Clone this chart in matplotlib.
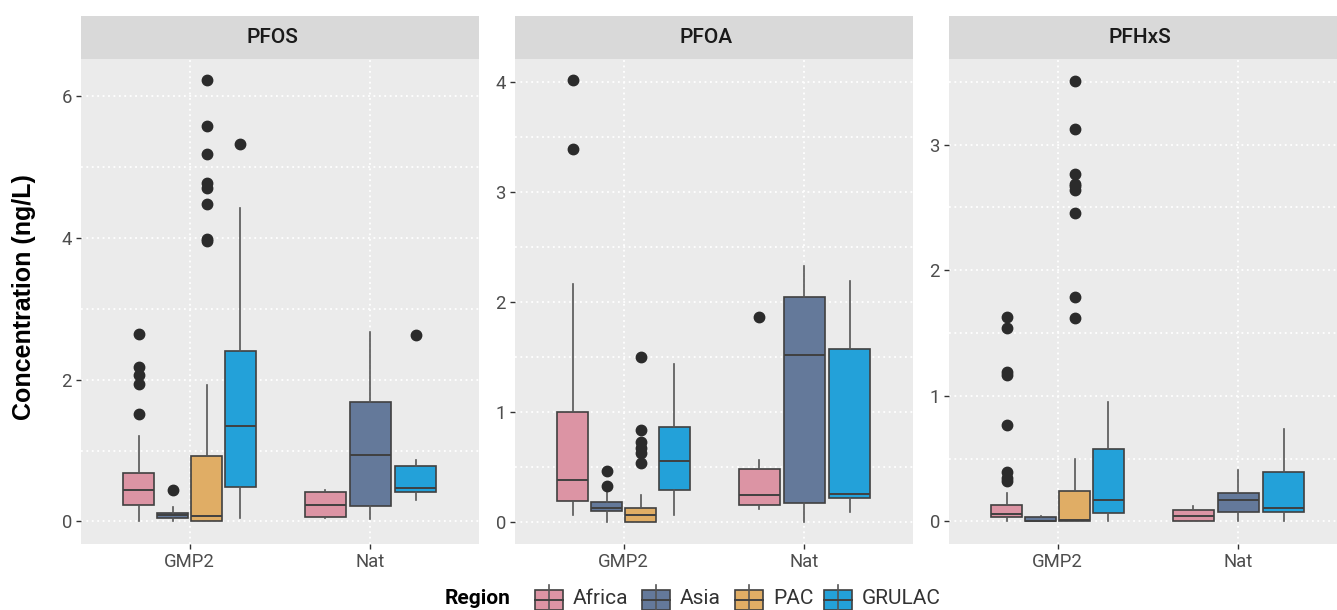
import matplotlib
matplotlib.use("Agg")
import matplotlib.pyplot as plt
from matplotlib.patches import Rectangle
from matplotlib.ticker import MultipleLocator

plt.rcParams["font.family"] = ["Roboto", "DejaVu Sans"]

# ---- data (box stats: whislo, q1, median, q3, whishi) ----
compounds = ["PFOS", "PFOA", "PFHxS"]
sites = ["GMP2", "Nat"]
gmp2_regions = ["Africa", "Asia", "PAC", "GRULAC"]
nat_regions = ["Africa", "Asia", "GRULAC"]
region_colors = {"Africa": "#dc94a4", "Asia": "#64799a", "PAC": "#e0ad65", "GRULAC": "#23a1d9"}

pfos_gmp2 = [[0.0, 0.23, 0.45, 0.69, 1.21],
             [0.0, 0.05, 0.085, 0.12, 0.20],
             [0.0, 0.0, 0.075, 0.92, 1.92],
             [0.05, 0.485, 1.35, 2.405, 4.42]]
pfos_gmp2_out = [[1.52, 1.94, 2.06, 2.18, 2.645],
                 [0.44],
                 [3.95, 3.98, 4.475, 4.70, 4.77, 5.19, 5.58, 6.23],
                 [5.32]]
pfos_nat = [[0.05, 0.056, 0.226, 0.41, 0.447],
            [0.04, 0.216, 0.936, 1.69, 2.67],
            [0.306, 0.414, 0.47, 0.777, 0.866]]
pfos_nat_out = [[], [], [2.635]]

pfoa_gmp2 = [[0.055, 0.19, 0.376, 1.0, 2.16],
             [0.0, 0.094, 0.127, 0.18, 0.27],
             [0.0, 0.0, 0.055, 0.127, 0.24],
             [0.055, 0.285, 0.548, 0.855, 1.433]]
pfoa_gmp2_out = [[3.39, 4.01],
                 [0.324, 0.458],
                 [0.533, 0.62, 0.667, 0.727, 0.833, 1.5],
                 []]
pfoa_nat = [[0.115, 0.152, 0.242, 0.48, 0.56],
            [0.0, 0.164, 1.51, 2.045, 2.32],
            [0.085, 0.215, 0.248, 1.57, 2.19]]
pfoa_nat_out = [[1.855], [], []]

pfhxs_gmp2 = [[0.0, 0.034, 0.058, 0.133, 0.23],
              [0.0, 0.0, 0.003, 0.032, 0.045],
              [0.0, 0.0, 0.01, 0.239, 0.496],
              [0.0, 0.066, 0.167, 0.576, 0.95]]
pfhxs_gmp2_out = [[0.326, 0.345, 0.39, 0.767, 1.167, 1.19, 1.544, 1.626],
                  [],
                  [1.623, 1.785, 2.454, 2.64, 2.67, 2.69, 2.77, 3.125, 3.51],
                  []]
pfhxs_nat = [[0.0, 0.0, 0.04, 0.088, 0.122],
             [0.0, 0.074, 0.167, 0.223, 0.406],
             [0.0, 0.072, 0.106, 0.39, 0.74]]
pfhxs_nat_out = [[], [], []]

panel_data = {
    "PFOS": [(pfos_gmp2, pfos_gmp2_out), (pfos_nat, pfos_nat_out)],
    "PFOA": [(pfoa_gmp2, pfoa_gmp2_out), (pfoa_nat, pfoa_nat_out)],
    "PFHxS": [(pfhxs_gmp2, pfhxs_gmp2_out), (pfhxs_nat, pfhxs_nat_out)],
}
site_regions = [gmp2_regions, nat_regions]

# ---- layout (pixels) ----
W, H = 1337, 610
fig = plt.figure(figsize=(W / 100, H / 100), dpi=100)
fig.patch.set_facecolor("white")


def px_box(x0, y0, x1, y1):
    return [x0 / W, 1 - y1 / H, (x1 - x0) / W, (y1 - y0) / H]


panel_left = [81, 515, 949]
panel_w = 398
panel_top, panel_bot = 58.5, 543.5
ylims = [(-0.311, 6.53), (-0.2, 4.21), (-0.1755, 3.686)]
major_steps = [2, 1, 1]
minor_steps = [1, 0.5, 0.5]
edge = "#404040"
grid_kw = dict(color="white", linestyle=(0, (1, 2)), linewidth=1.3)

for k, comp in enumerate(compounds):
    x0 = panel_left[k]
    x1 = min(x0 + panel_w, W)
    ax = fig.add_axes(px_box(x0, panel_top, x1, panel_bot))
    ax.set_facecolor("#ebebeb")
    for s in ax.spines.values():
        s.set_visible(False)

    for j, (stats, outs) in enumerate(panel_data[comp]):
        regs = site_regions[j]
        n = len(regs)
        slot = 0.75 / n
        for i, reg in enumerate(regs):
            lo, q1, med, q3, hi = stats[i]
            pos = (j + 1) + (i - (n - 1) / 2) * slot
            st = [dict(whislo=lo, q1=q1, med=med, q3=q3, whishi=hi, fliers=outs[i])]
            ax.bxp(st, positions=[pos], widths=0.9 * slot, patch_artist=True,
                   showcaps=False, manage_ticks=False,
                   boxprops=dict(facecolor=region_colors[reg], edgecolor=edge, linewidth=1.2),
                   medianprops=dict(color=edge, linewidth=1.4),
                   whiskerprops=dict(color="#555555", linewidth=1.2),
                   flierprops=dict(marker="o", markerfacecolor="#2b2b2b",
                                   markeredgecolor="#2b2b2b", markersize=7.5))

    ax.set_xlim(0.4, 0.4 + (x1 - x0) / (panel_w / 2.2))
    ax.set_ylim(*ylims[k])
    ax.set_xticks([1, 2])
    ax.set_xticklabels(sites)
    ax.yaxis.set_major_locator(MultipleLocator(major_steps[k]))
    ax.yaxis.set_minor_locator(MultipleLocator(minor_steps[k]))
    ax.tick_params(axis="both", which="major", colors="#333333", labelcolor="#4d4d4d",
                   labelsize=13.3, length=3.5, width=1, pad=3)
    ax.tick_params(axis="y", which="minor", length=0)
    ax.grid(True, which="major", axis="both", **grid_kw)
    ax.grid(True, which="minor", axis="y", **grid_kw)
    ax.set_axisbelow(True)

    # strip
    sax = fig.add_axes(px_box(x0, 16, x1, panel_top))
    sax.set_facecolor("#d9d9d9")
    sax.set_xticks([])
    sax.set_yticks([])
    for s in sax.spines.values():
        s.set_visible(False)
    sax.text((panel_w / 2 - 8) / (x1 - x0), 0.5, comp, transform=sax.transAxes,
             ha="center", va="center", fontsize=15, fontweight="medium", color="#1a1a1a")

fig.text(24 / W, 1 - 297 / H, "Concentration (ng/L)", rotation=90, ha="center", va="center",
         fontsize=18, fontweight="bold", family=["Liberation Sans", "DejaVu Sans"], color="black")

# ---- legend ----
lax = fig.add_axes([0, 0, 1, 1], zorder=-1)
lax.set_xlim(0, W)
lax.set_ylim(H, 0)
lax.axis("off")
lax.text(445, 598, "Region", ha="left", va="center", fontsize=15, fontweight="bold", color="black")
key_x = [534.5, 641.5, 734.5, 823.5]
for reg, kx in zip(gmp2_regions, key_x):
    lax.plot([kx + 14, kx + 14], [585, 610], color="#555555", lw=1.2)
    lax.add_patch(Rectangle((kx, 589.5), 28, 20, facecolor=region_colors[reg], edgecolor=edge, lw=1.2))
    lax.plot([kx, kx + 28], [599.5, 599.5], color=edge, lw=1.4)
    lax.text(kx + 38.5, 599, reg, ha="left", va="center", fontsize=15, color="#333333")

fig.savefig("out.png", dpi=100)
